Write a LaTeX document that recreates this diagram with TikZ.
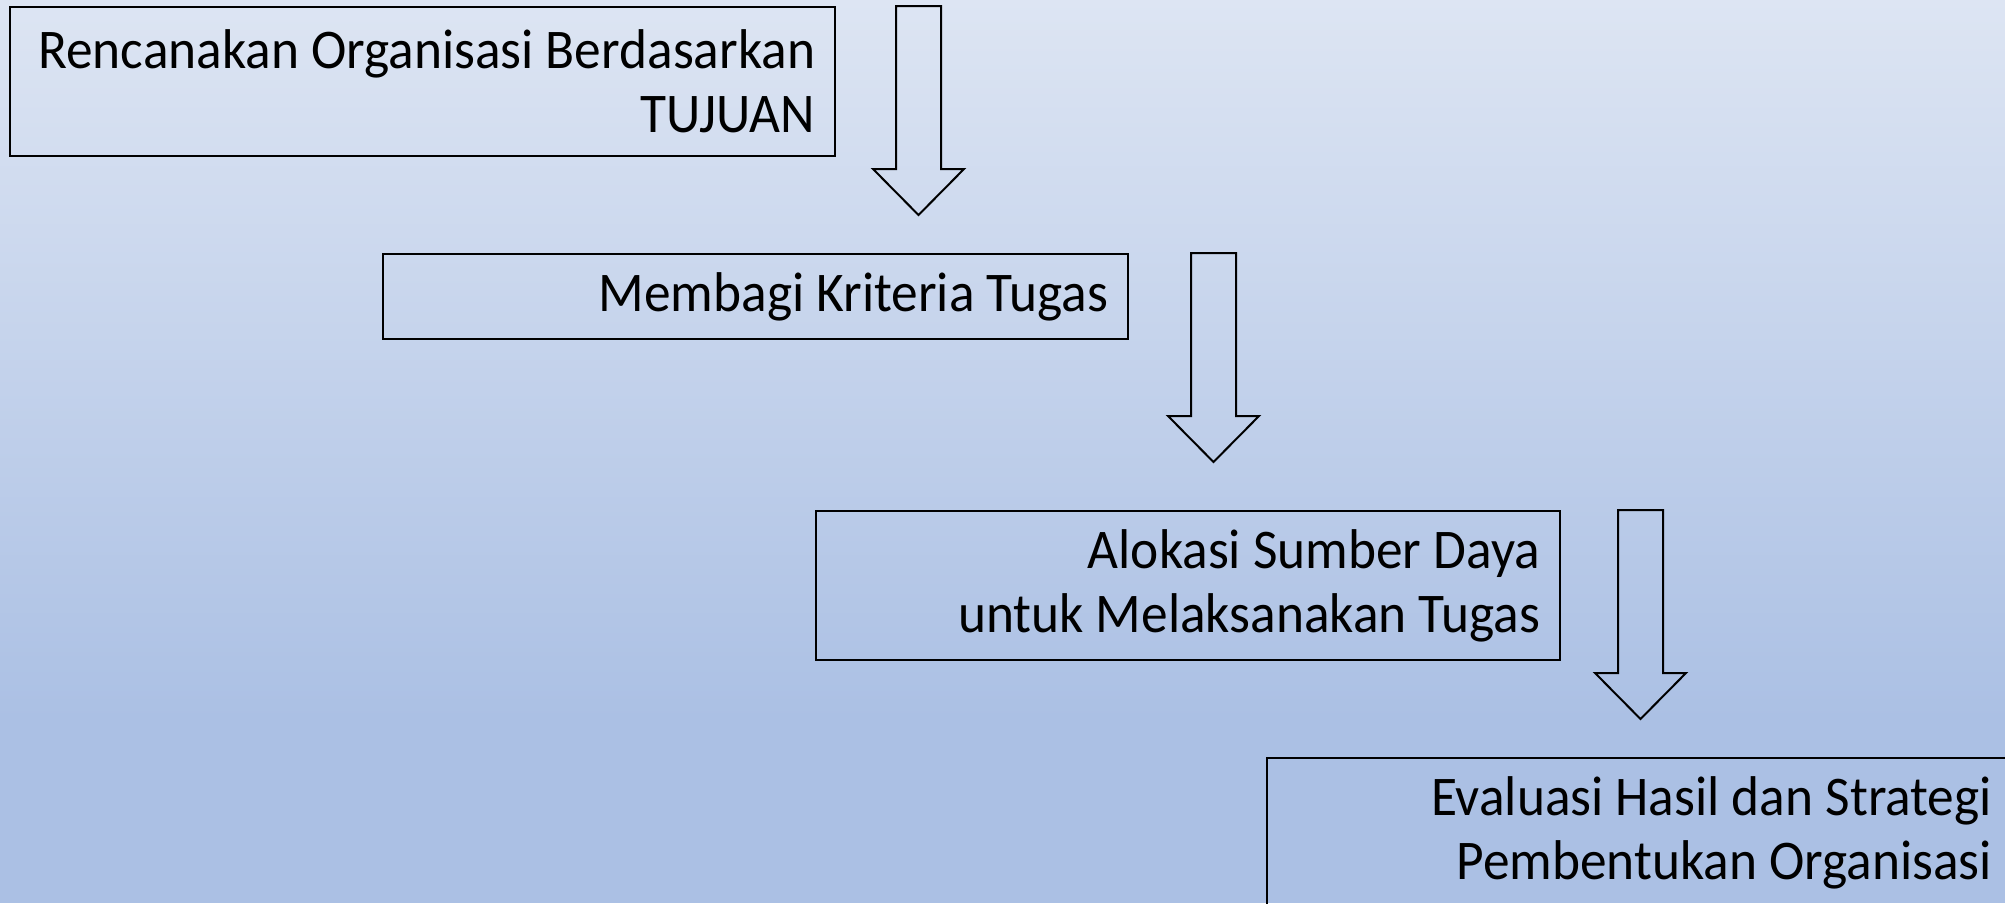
\documentclass[tikz,border=0pt]{standalone}
\usepackage{fontspec}
\setmainfont{Carlito}[FakeStretch=0.953]
\usetikzlibrary{positioning}

\definecolor{bgtop}{RGB}{221,229,243}
\definecolor{bgbottom}{RGB}{171,192,228}

\tikzset{
  stepbox/.style={draw=black, line width=2pt, anchor=north west,
    align=flush right, inner xsep=20pt, inner ysep=0pt,
    font=\fontsize{56}{64}\selectfont},
  blockarrow/.style={draw=black, line width=2pt, line join=miter},
}

\begin{document}
\begin{tikzpicture}[x=1pt,y=1pt]
        \useasboundingbox (0,0) rectangle (2005,-903);
        \clip (0,0) rectangle (2005,-903);
        % background
        \shade[top color=bgtop, bottom color=bgbottom]
          (0,0) rectangle (2005,-720);
        \fill[bgbottom] (0,-720) rectangle (2005,-903);

        \node(box1)[stepbox, minimum width=825, minimum height=149,
          text width=785] at (9,-6)
          {Rencanakan Organisasi Berdasarkan\\TUJUAN};
        \node(box2)[stepbox, minimum width=745, minimum height=85,
          text width=705] at (382,-253)
          {Membagi Kriteria Tugas};
        \node(box3)[stepbox, minimum width=744, minimum height=149,
          text width=704] at (815,-510)
          {Alokasi Sumber Daya\\untuk Melaksanakan Tugas};
        \node(box4)[stepbox, minimum width=745, minimum height=149,
          text width=705] at (1266,-757)
          {Evaluasi Hasil dan Strategi\\Pembentukan Organisasi};

        % block arrows beside each box
        \foreach \b/\dx in {box1/60, box2/62, box3/57}
          \draw[blockarrow, shift={(\b.north east)}]
            (\dx,0)
            -- ++(45,0)
            -- ++(0,-163)
            -- ++(23,0)
            -- ++(-45.5,-46)
            -- ++(-45.5,46)
            -- ++(23,0)
            -- cycle
          ;
      \end{tikzpicture}
\end{document}
